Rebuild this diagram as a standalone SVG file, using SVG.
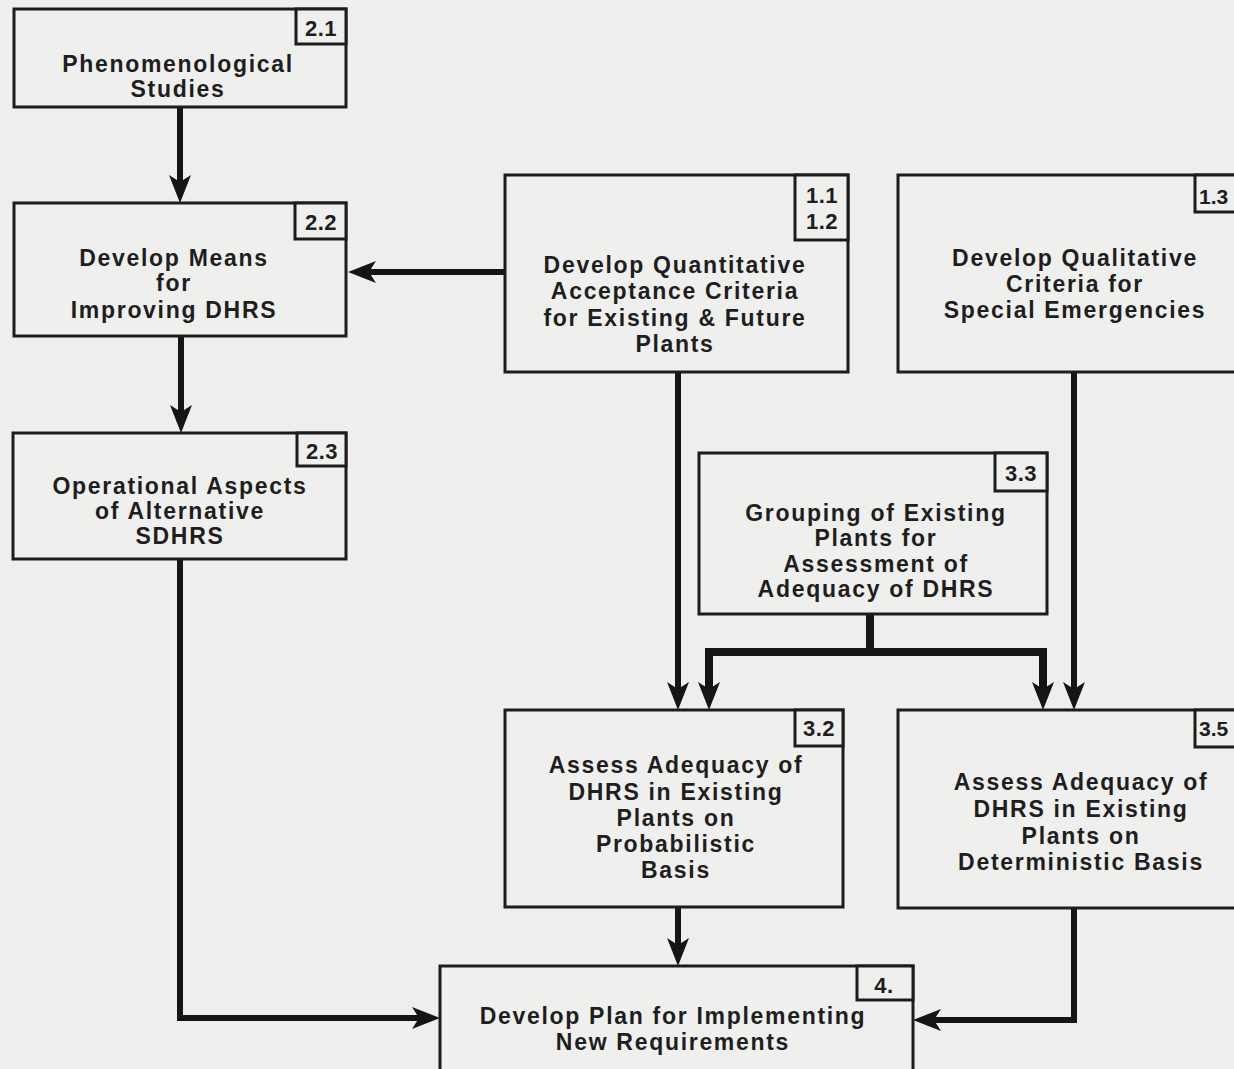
<svg xmlns="http://www.w3.org/2000/svg" width="1234" height="1069" viewBox="0 0 1234 1069">
<defs>
<style>
.bg{fill:#eeeeec}
.box{fill:#efefed;stroke:#1c1c1c;stroke-width:3}
.tag{fill:#efefed;stroke:#1c1c1c;stroke-width:3}
.t{font-family:"Liberation Sans",Arial,sans-serif;font-weight:bold;font-size:23px;letter-spacing:1.7px;fill:#1e1e1e;text-anchor:middle}
.n{font-family:"Liberation Sans",Arial,sans-serif;font-weight:bold;font-size:22px;letter-spacing:0.5px;fill:#1e1e1e;text-anchor:middle}
.ne{font-family:"Liberation Sans",Arial,sans-serif;font-weight:bold;font-size:21px;fill:#1e1e1e;text-anchor:start}
.c{fill:none;stroke:#151515;stroke-width:6;stroke-linejoin:miter}
.ct{fill:none;stroke:#151515;stroke-width:8;stroke-linejoin:miter}
</style>
<marker id="ah" markerUnits="userSpaceOnUse" markerWidth="30" markerHeight="24" viewBox="0 0 30 24" refX="16" refY="12" orient="auto">
<path d="M0,1 L28,12 L0,23 L7,12 Z" fill="#151515"/>
</marker>
</defs>
<rect class="bg" x="0" y="0" width="1234" height="1069"/>

<g id="connectors">
<line class="c" x1="180" y1="107" x2="180" y2="191" marker-end="url(#ah)"/>
<line class="c" x1="505" y1="272" x2="360" y2="272" marker-end="url(#ah)"/>
<line class="c" x1="181" y1="336" x2="181" y2="421" marker-end="url(#ah)"/>
<line class="c" x1="678" y1="372" x2="678" y2="698" marker-end="url(#ah)"/>
<path class="ct" d="M870,614 V652"/>
<path class="ct" d="M709,652 H1043"/>
<line class="ct" x1="709" y1="648" x2="709" y2="698" marker-end="url(#ah)"/>
<line class="ct" x1="1043" y1="648" x2="1043" y2="698" marker-end="url(#ah)"/>
<line class="c" x1="1074" y1="372" x2="1074" y2="698" marker-end="url(#ah)"/>
<path class="c" d="M180,559 V1018 H428" marker-end="url(#ah)"/>
<line class="c" x1="678" y1="907" x2="678" y2="954" marker-end="url(#ah)"/>
<path class="c" d="M1074,908 V1020 H925" marker-end="url(#ah)"/>
</g>

<g id="n21">
<rect class="box" x="14" y="9" width="332" height="98"/>
<rect class="tag" x="296" y="9" width="50" height="35"/>
<text class="n" x="321" y="36">2.1</text>
<text class="t" x="178" y="72">Phenomenological</text>
<text class="t" x="178" y="97">Studies</text>
</g>

<g id="n22">
<rect class="box" x="14" y="203" width="332" height="133"/>
<rect class="tag" x="295" y="203" width="51" height="36"/>
<text class="n" x="321" y="230">2.2</text>
<text class="t" x="174" y="266">Develop Means</text>
<text class="t" x="174" y="291">for</text>
<text class="t" x="174" y="318">Improving DHRS</text>
</g>

<g id="n23">
<rect class="box" x="13" y="433" width="333" height="126"/>
<rect class="tag" x="297" y="433" width="49" height="33"/>
<text class="n" x="322" y="459">2.3</text>
<text class="t" x="180" y="494">Operational Aspects</text>
<text class="t" x="180" y="519">of Alternative</text>
<text class="t" x="180" y="544">SDHRS</text>
</g>

<g id="n11">
<rect class="box" x="505" y="175" width="343" height="197"/>
<rect class="tag" x="795" y="175" width="53" height="65"/>
<text class="n" x="822" y="203">1.1</text>
<text class="n" x="822" y="229">1.2</text>
<text class="t" x="675" y="273">Develop Quantitative</text>
<text class="t" x="675" y="299">Acceptance Criteria</text>
<text class="t" x="675" y="326">for Existing &amp; Future</text>
<text class="t" x="675" y="352">Plants</text>
</g>

<g id="n13">
<rect class="box" x="898" y="175" width="345" height="197"/>
<rect class="tag" x="1195" y="175" width="48" height="37"/>
<text class="ne" x="1199" y="204">1.3</text>
<text class="t" x="1075" y="266">Develop Qualitative</text>
<text class="t" x="1075" y="292">Criteria for</text>
<text class="t" x="1075" y="318">Special Emergencies</text>
</g>

<g id="n33">
<rect class="box" x="699" y="453" width="348" height="161"/>
<rect class="tag" x="995" y="453" width="52" height="38"/>
<text class="n" x="1021" y="481">3.3</text>
<text class="t" x="876" y="521">Grouping of Existing</text>
<text class="t" x="876" y="546">Plants for</text>
<text class="t" x="876" y="572">Assessment of</text>
<text class="t" x="876" y="597">Adequacy of DHRS</text>
</g>

<g id="n32">
<rect class="box" x="505" y="710" width="338" height="197"/>
<rect class="tag" x="795" y="710" width="48" height="36"/>
<text class="n" x="819" y="736">3.2</text>
<text class="t" x="676" y="773">Assess Adequacy of</text>
<text class="t" x="676" y="800">DHRS in Existing</text>
<text class="t" x="676" y="826">Plants on</text>
<text class="t" x="676" y="852">Probabilistic</text>
<text class="t" x="676" y="878">Basis</text>
</g>

<g id="n35">
<rect class="box" x="898" y="710" width="345" height="198"/>
<rect class="tag" x="1195" y="710" width="48" height="37"/>
<text class="ne" x="1199" y="736">3.5</text>
<text class="t" x="1081" y="790">Assess Adequacy of</text>
<text class="t" x="1081" y="817">DHRS in Existing</text>
<text class="t" x="1081" y="844">Plants on</text>
<text class="t" x="1081" y="870">Deterministic Basis</text>
</g>

<g id="n4">
<rect class="box" x="440" y="966" width="473" height="110"/>
<rect class="tag" x="857" y="966" width="56" height="34"/>
<text class="n" x="884" y="993">4.</text>
<text class="t" x="673" y="1024">Develop Plan for Implementing</text>
<text class="t" x="673" y="1050">New Requirements</text>
</g>
</svg>
